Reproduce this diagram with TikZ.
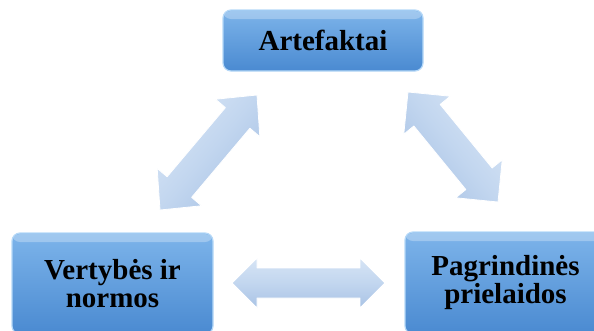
\documentclass[tikz,border=0pt]{standalone}
\usepackage{fontspec}
\setmainfont{Liberation Serif}
\usetikzlibrary{calc}

\definecolor{boxtop}{HTML}{7DB4EA}
\definecolor{boxbot}{HTML}{4A8AD1}
\definecolor{boxedge}{HTML}{B5D8F7}
\definecolor{arrtop}{HTML}{D6E4F5}
\definecolor{arrmid}{HTML}{C2D6EF}
\definecolor{arrbot}{HTML}{A9C3E5}

\tikzset{
  stagebox/.style={rectangle, rounded corners=8pt,
    top color=boxtop, bottom color=boxbot,
    draw=boxedge, line width=1.2pt,
    font=\bfseries\fontsize{29}{28}\selectfont, align=center, text=black,
    inner sep=0pt,
    path picture={\fill[white,opacity=.28]
      ([yshift=-1pt]path picture bounding box.north west) rectangle
      ([yshift=-9pt]path picture bounding box.north east);}},
  arrowbody/.style={top color=arrtop, bottom color=arrbot, middle color=arrmid,
    shading angle=#1, draw=white, line width=.8pt, line join=round}
}

% double block arrow between two named tips:
% #1,#2 tips, #3 head length, #4 half head width, #5 half shaft width, #6 shading angle
\newcommand\dblblock[6]{%
  \coordinate (ha) at ($(#1)!#3!(#2)$);
  \coordinate (hb) at ($(#2)!#3!(#1)$);
  \path[arrowbody=#6] (#1)
    -- ($(ha)!#4!90:(#2)$) -- ($(ha)!#5!90:(#2)$)
    -- ($(hb)!#5!-90:(#1)$) -- ($(hb)!#4!-90:(#1)$)
    -- (#2)
    -- ($(hb)!#4!90:(#1)$) -- ($(hb)!#5!90:(#1)$)
    -- ($(ha)!#5!-90:(#2)$) -- ($(ha)!#4!-90:(#2)$)
    -- cycle;
}

\begin{document}
\begin{tikzpicture}[x=1pt,y=-1pt]
  \useasboundingbox (0,0) rectangle (594,330);
  \clip (0,0) rectangle (594,330);

  % the three stages
  \node[stagebox, minimum width=200pt, minimum height=61pt] (art) at (323,40.5) {Artefaktai};
  \node[stagebox, minimum width=201pt, minimum height=101pt] (vert) at (112.5,283.5) {Vertybės ir\\normos};
  \node[stagebox, minimum width=201pt, minimum height=102pt] (prie) at (505.5,283) {Pagrindinės\\prielaidos};

  % arrow tips
  \coordinate (l1) at (160,210);  \coordinate (l2) at (257,95);
  \coordinate (r1) at (408,92);   \coordinate (r2) at (498,202);
  \coordinate (h1) at (232,283);  \coordinate (h2) at (385,283);

  % two-way block arrows between the stages
  \dblblock{l1}{l2}{30pt}{29pt}{16pt}{49.9}
  \dblblock{r1}{r2}{30pt}{30pt}{17pt}{-50.7}
  \dblblock{h1}{h2}{25pt}{25pt}{15pt}{0}
\end{tikzpicture}
\end{document}
